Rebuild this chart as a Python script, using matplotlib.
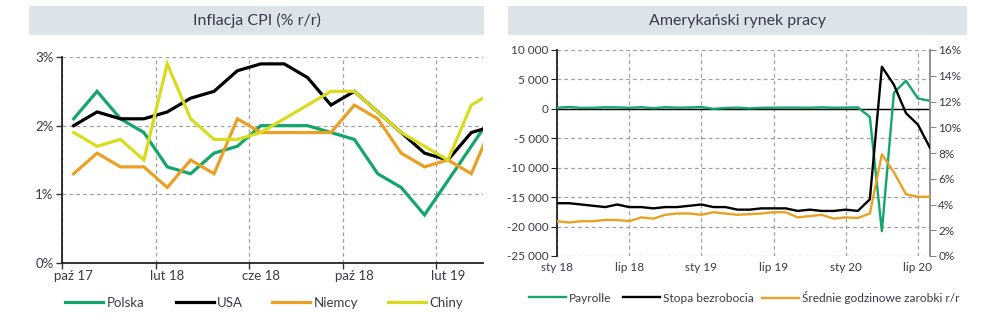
import matplotlib
matplotlib.use("Agg")
import matplotlib.pyplot as plt
from matplotlib.patches import Rectangle
from matplotlib.ticker import FuncFormatter, FixedLocator

plt.rcParams['font.family'] = ['Lato', 'DejaVu Sans']

# ---------------- data: left chart (CPI, % y/y), Oct 2017 - Apr 2019 ----------------
cpi_months = ["paź 17", "lis 17", "gru 17", "sty 18", "lut 18", "mar 18", "kwi 18", "maj 18",
              "cze 18", "lip 18", "sie 18", "wrz 18", "paź 18", "lis 18", "gru 18",
              "sty 19", "lut 19", "mar 19", "kwi 19"]
polska = [2.1, 2.5, 2.1, 1.9, 1.4, 1.3, 1.6, 1.7, 2.0, 2.0, 2.0, 1.9, 1.8, 1.3, 1.1, 0.7, 1.2, 1.7, 2.2]
usa    = [2.0, 2.2, 2.1, 2.1, 2.2, 2.4, 2.5, 2.8, 2.9, 2.9, 2.7, 2.3, 2.5, 2.2, 1.9, 1.6, 1.5, 1.9, 2.0]
niemcy = [1.3, 1.6, 1.4, 1.4, 1.1, 1.5, 1.3, 2.1, 1.9, 1.9, 1.9, 1.9, 2.3, 2.1, 1.6, 1.4, 1.5, 1.3, 2.1]
chiny  = [1.9, 1.7, 1.8, 1.5, 2.9, 2.1, 1.8, 1.8, 1.9, 2.1, 2.3, 2.5, 2.5, 2.2, 1.9, 1.7, 1.5, 2.3, 2.5]
cpi_tick_labels = ["paź 17", "lut 18", "cze 18", "paź 18", "lut 19"]

# ---------------- data: right chart (US labour market), Jan 2018 - Aug 2020 ----------------
lm_tick_labels = ["sty 18", "lip 18", "sty 19", "lip 19", "sty 20", "lip 20"]
payrolls = [176, 324, 155, 175, 268, 248, 178, 282, 108, 277, 197, 227,
            312, 1, 147, 210, 85, 182, 194, 207, 208, 185, 261, 184,
            214, 251, -1373, -20787, 2725, 4781, 1761, 1371]
unemployment = [4.1, 4.1, 4.0, 3.9, 3.8, 4.0, 3.8, 3.8, 3.7, 3.8, 3.8, 3.9,
                4.0, 3.8, 3.8, 3.6, 3.6, 3.7, 3.7, 3.7, 3.5, 3.6, 3.5, 3.5,
                3.6, 3.5, 4.4, 14.7, 13.3, 11.1, 10.2, 8.4]
earnings = [2.7, 2.6, 2.7, 2.7, 2.8, 2.8, 2.7, 3.0, 2.9, 3.2, 3.3, 3.3,
            3.2, 3.4, 3.3, 3.2, 3.25, 3.3, 3.4, 3.4, 3.0, 3.1, 3.2, 2.9,
            3.0, 2.95, 3.3, 7.9, 6.5, 4.8, 4.6, 4.6]

GREEN = "#12a66c"
BLACK = "#000000"
ORANGE = "#e9a023"
YELLOW = "#d9dc1c"
TXT = "#3a3a4a"
BOX = "#dce4ea"
GRID = "#a0a0a0"

W, H = 986, 321
fig = plt.figure(figsize=(W / 100, H / 100), dpi=100)


def fx(px):
    return px / W


def fy(py):
    return 1 - py / H


def legend_item(handle, label, x_px, y_px, fs, line_px=38):
    fs_px = fs * 100 / 72
    lg = fig.legend([handle], [label], loc="center left", bbox_to_anchor=(fx(x_px), fy(y_px)),
                    frameon=False, fontsize=fs, handlelength=line_px / fs_px,
                    handletextpad=0.25, labelcolor=TXT, borderpad=0, borderaxespad=0)
    return lg


# title boxes
for (x0, x1, title) in [(29, 484, "Inflacja CPI (% r/r)"), (508, 967, "Amerykański rynek pracy")]:
    fig.patches.append(Rectangle((fx(x0), fy(35)), fx(x1 - x0), (35 - 6) / H,
                                 transform=fig.transFigure, facecolor=BOX, edgecolor="none", zorder=0))
    fig.text(fx((x0 + x1) / 2), fy(20.5), title, ha="center", va="center",
             fontsize=11.5, color=TXT)

# ---------------- left chart ----------------
ax = fig.add_axes([fx(62), fy(263), fx(483 - 62), (263 - 57) / H])
xs = list(range(len(cpi_months)))
handles = []
for vals, col, lab in [(polska, GREEN, "Polska"), (usa, BLACK, "USA"),
                       (niemcy, ORANGE, "Niemcy"), (chiny, YELLOW, "Chiny")]:
    h, = ax.plot(xs, vals, color=col, lw=2.3, label=lab, solid_joinstyle="miter")
    handles.append(h)
ax.set_xlim(-0.5, 17.5)
ax.set_ylim(0, 3)
ax.set_yticks([0, 1, 2, 3])
ax.yaxis.set_major_formatter(FuncFormatter(lambda v, p: f"{v:.0f}%"))
label_pos = [cpi_months.index(l) for l in cpi_tick_labels]
ax.xaxis.set_major_locator(FixedLocator([p - 0.5 for p in label_pos]))
ax.xaxis.set_minor_locator(FixedLocator(label_pos))
ax.set_xticklabels([""] * len(label_pos))
ax.set_xticklabels(cpi_tick_labels, minor=True)
ax.tick_params(axis="x", which="minor", length=0, pad=5, labelsize=9.5, labelcolor=TXT)
ax.tick_params(axis="x", which="major", length=4, direction="out", color="#333333", width=1)
ax.tick_params(axis="y", length=4, direction="out", color="#333333", width=1, labelsize=9.5,
               labelcolor=TXT, pad=2)
ax.grid(True, which="major", axis="both", color=GRID, ls=(0, (3, 2.5)), lw=0.9)
for s in ["top", "right"]:
    ax.spines[s].set_visible(False)
for s in ["left", "bottom"]:
    ax.spines[s].set_color("#222222")
    ax.spines[s].set_linewidth(1.3)
ax.set_axisbelow(True)

for h, xp in zip(handles, [65, 176, 272, 388]):
    legend_item(h, h.get_label(), xp, 303, 9.5)

# ---------------- right chart ----------------
bx = fig.add_axes([fx(557), fy(256), fx(930 - 557), (256 - 50) / H])
bx2 = bx.twinx()
mx = list(range(len(payrolls)))
bx.axhline(0, color=BLACK, lw=1.0, zorder=2)
lp, = bx.plot(mx, payrolls, color=GREEN, lw=1.7, zorder=3, label="Payrolle")
lu, = bx2.plot(mx, unemployment, color=BLACK, lw=1.7, zorder=3, label="Stopa bezrobocia")
le, = bx2.plot(mx, earnings, color=ORANGE, lw=1.7, zorder=3, label="Średnie godzinowe zarobki r/r")
bx.set_xlim(0, 31)
bx.set_ylim(-25000, 10000)
bx.set_yticks(range(-25000, 10001, 5000))
bx.yaxis.set_major_formatter(FuncFormatter(lambda v, p: f"{int(v):,}".replace(",", " ")))
bx2.set_ylim(0, 16)
bx2.set_yticks(range(0, 17, 2))
bx2.yaxis.set_major_formatter(FuncFormatter(lambda v, p: f"{v:.0f}%"))
bx.set_xticks([0, 6, 12, 18, 24, 30])
bx.set_xticklabels(lm_tick_labels)
bx.tick_params(axis="x", length=0, pad=4, labelsize=8.5, labelcolor=TXT)
bx.tick_params(axis="y", length=4, direction="out", color="#222222", labelsize=8.5,
               labelcolor=TXT, pad=2)
bx2.tick_params(axis="y", length=4, direction="out", color="#888888", labelsize=8.5,
                labelcolor=TXT, pad=2)
bx.grid(True, axis="both", color=GRID, ls=(0, (3, 2.5)), lw=0.9)
for a in (bx, bx2):
    for s in ["top", "bottom"]:
        a.spines[s].set_visible(False)
bx.spines["right"].set_visible(False)
bx2.spines["left"].set_visible(False)
bx.spines["left"].set_color("#222222")
bx.spines["left"].set_linewidth(1.3)
bx2.spines["right"].set_color("#888888")
bx2.spines["right"].set_linewidth(1.3)
bx.set_axisbelow(True)

for h, xp in zip([lp, lu, le], [529, 623, 762]):
    legend_item(h, h.get_label(), xp, 298, 8.6, line_px=37)

fig.savefig("out.png", dpi=100)
